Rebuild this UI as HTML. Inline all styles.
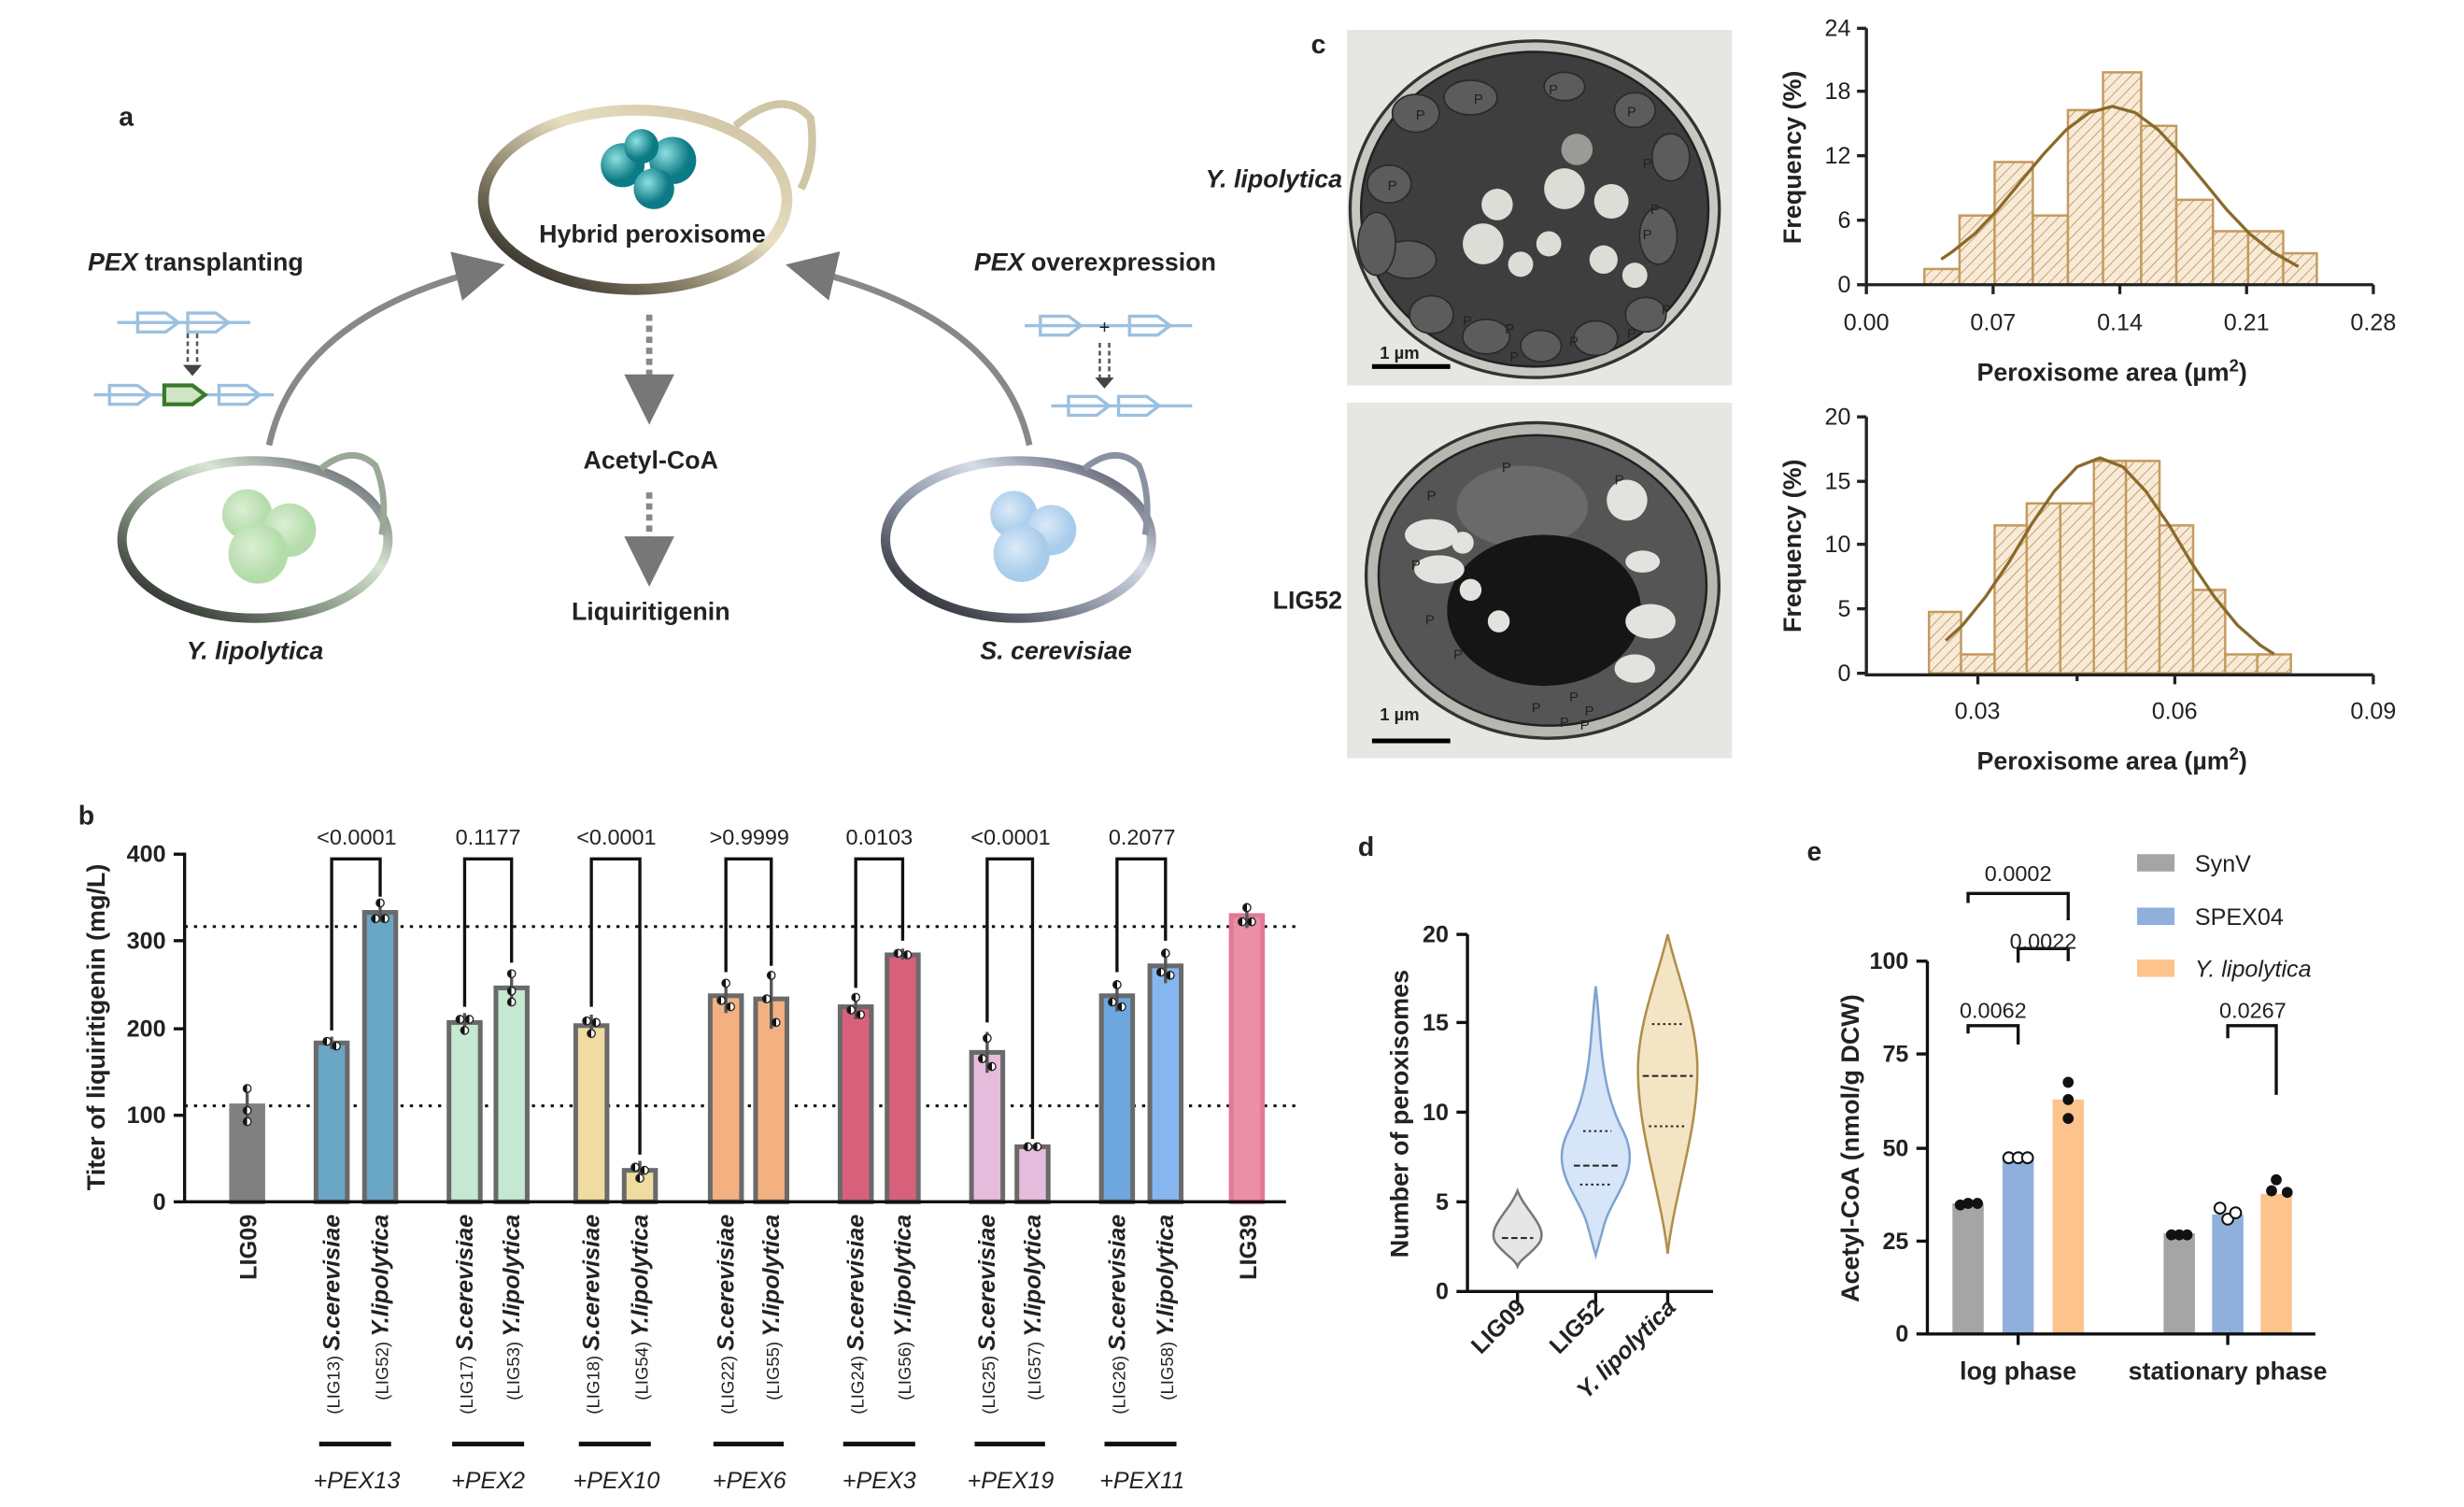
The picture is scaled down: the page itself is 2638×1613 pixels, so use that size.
<!DOCTYPE html>
<html><head><meta charset="utf-8"><style>
html,body{margin:0;padding:0;background:#fff}
svg{display:block}
text{font-family:"Liberation Sans",sans-serif;fill:#222}
.b{font-weight:bold}
.bi{font-weight:bold;font-style:italic}
</style></head><body>
<svg width="2638" height="1613" viewBox="0 0 1575 958" preserveAspectRatio="none" xmlns="http://www.w3.org/2000/svg">
<defs>
<pattern id="h" patternUnits="userSpaceOnUse" width="5" height="5" patternTransform="rotate(45)">
<rect width="5" height="5" fill="#f7ead8"/><line x1="0" y1="0" x2="0" y2="5" stroke="#c49a5e" stroke-width="1.1"/></pattern>
<radialGradient id="gt" cx="35%" cy="35%"><stop offset="0" stop-color="#8ee0e0"/><stop offset="1" stop-color="#0d7b86"/></radialGradient>
<radialGradient id="gg" cx="40%" cy="40%"><stop offset="0" stop-color="#dcefd4"/><stop offset="1" stop-color="#b4dcaa"/></radialGradient>
<radialGradient id="gb" cx="40%" cy="40%"><stop offset="0" stop-color="#dbeaf8"/><stop offset="1" stop-color="#a8cceb"/></radialGradient>
<linearGradient id="rh" x1="0" y1="1" x2="1" y2="0"><stop offset="0" stop-color="#111"/><stop offset="0.35" stop-color="#8a826a"/><stop offset="0.6" stop-color="#e8dfc2"/><stop offset="1" stop-color="#c8bd9a"/></linearGradient>
<linearGradient id="rg" x1="0" y1="1" x2="1" y2="0"><stop offset="0" stop-color="#111"/><stop offset="0.4" stop-color="#8a9a88"/><stop offset="0.65" stop-color="#d8e6d2"/><stop offset="1" stop-color="#445"/></linearGradient>
<linearGradient id="rb" x1="0" y1="1" x2="1" y2="0"><stop offset="0" stop-color="#111"/><stop offset="0.4" stop-color="#8890a0"/><stop offset="0.65" stop-color="#d6dce8"/><stop offset="1" stop-color="#334"/></linearGradient>
<marker id="ar" markerWidth="8" markerHeight="8" refX="6" refY="4" orient="auto"><path d="M0,0 L8,4 L0,8z" fill="#777"/></marker>
<linearGradient id="hd" x1="0" y1="0" x2="1" y2="0"><stop offset="0.5" stop-color="#111"/><stop offset="0.5" stop-color="#fff"/></linearGradient>
</defs>

<!-- Panel a -->
<text x="76" y="80" class="b" font-size="17" fill="#555">a</text>
<ellipse cx="406" cy="127" rx="97" ry="57" fill="#fff" stroke="url(#rh)" stroke-width="7"/>
<path d="M470,80 Q500,55 518,75 Q522,100 512,120" fill="none" stroke="#cfc6a6" stroke-width="5"/>
<circle cx="398" cy="105" r="14" fill="url(#gt)"/><circle cx="430" cy="102" r="15" fill="url(#gt)"/><circle cx="418" cy="120" r="13" fill="url(#gt)"/><circle cx="410" cy="93" r="11" fill="url(#gt)"/>
<text x="417" y="154" class="b" font-size="16" text-anchor="middle" fill="#444">Hybrid peroxisome</text>
<ellipse cx="163" cy="343" rx="85" ry="50" fill="#fff" stroke="url(#rg)" stroke-width="6"/>
<path d="M205,298 Q225,282 240,296 Q248,315 244,340" fill="none" stroke="#9aa896" stroke-width="4"/>
<circle cx="158" cy="327" r="16" fill="url(#gg)"/><circle cx="185" cy="337" r="17" fill="url(#gg)"/><circle cx="165" cy="352" r="19" fill="url(#gg)"/>
<text x="163" y="419" class="bi" font-size="16" text-anchor="middle" fill="#444">Y. lipolytica</text>
<ellipse cx="651" cy="343" rx="85" ry="50" fill="#fff" stroke="url(#rb)" stroke-width="6"/>
<path d="M693,298 Q713,282 728,296 Q736,315 732,340" fill="none" stroke="#8a92a2" stroke-width="4"/>
<circle cx="648" cy="327" r="15" fill="url(#gb)"/><circle cx="672" cy="337" r="16" fill="url(#gb)"/><circle cx="653" cy="352" r="18" fill="url(#gb)"/>
<text x="675" y="419" class="bi" font-size="16" text-anchor="middle" fill="#444">S. cerevisiae</text>
<path d="M172,283 Q190,200 315,170" fill="none" stroke="#888" stroke-width="4" marker-end="url(#ar)"/>
<path d="M658,283 Q640,200 510,170" fill="none" stroke="#888" stroke-width="4" marker-end="url(#ar)"/>
<line x1="415" y1="200" x2="415" y2="262" stroke="#888" stroke-width="4" stroke-dasharray="4,3" marker-end="url(#ar)"/>
<line x1="415" y1="313" x2="415" y2="365" stroke="#888" stroke-width="4" stroke-dasharray="4,3" marker-end="url(#ar)"/>
<text x="416" y="298" class="b" font-size="16" text-anchor="middle" fill="#b30000">Acetyl-CoA</text>
<text x="416" y="394" class="b" font-size="16" text-anchor="middle" fill="#444">Liquiritigenin</text>
<text x="125" y="172" class="b" font-size="16" text-anchor="middle" fill="#444"><tspan font-style="italic">PEX</tspan> transplanting</text>
<text x="700" y="172" class="b" font-size="16" text-anchor="middle" fill="#444"><tspan font-style="italic">PEX</tspan> overexpression</text>
<g stroke="#9cc0e0" stroke-width="2" fill="none">
<line x1="75" y1="205" x2="160" y2="205"/><path d="M88,199 h18 l8,6 l-8,6 h-18z M120,199 h18 l8,6 l-8,6 h-18z"/>
<line x1="60" y1="251" x2="175" y2="251"/><path d="M70,245 h18 l8,6 l-8,6 h-18z M140,245 h18 l8,6 l-8,6 h-18z"/>
<line x1="655" y1="207" x2="762" y2="207"/><path d="M665,201 h18 l8,6 l-8,6 h-18z M722,201 h18 l8,6 l-8,6 h-18z"/>
<line x1="672" y1="258" x2="762" y2="258"/><path d="M683,252 h18 l8,6 l-8,6 h-18z M715,252 h18 l8,6 l-8,6 h-18z"/>
</g>
<path d="M105,245 h18 l8,6 l-8,6 h-18z" fill="#cfe6c4" stroke="#3a7a2a" stroke-width="2.5"/>
<g stroke="#555" stroke-width="1.5" stroke-dasharray="3,2"><line x1="120" y1="212" x2="120" y2="235"/><line x1="126" y1="212" x2="126" y2="235"/><line x1="703" y1="218" x2="703" y2="243"/><line x1="709" y1="218" x2="709" y2="243"/></g>
<path d="M117,232 l6,7 l6,-7z M700,240 l6,7 l6,-7z" fill="#444"/>
<text x="706" y="212" font-size="12" text-anchor="middle">+</text>

<!-- Panel c -->
<text x="838" y="34" class="b" font-size="17" fill="#555">c</text>
<rect x="861" y="19" width="246" height="226" fill="#e6e6e2"/>
<ellipse cx="981" cy="133" rx="118" ry="107" fill="#c8c8c2" stroke="#333" stroke-width="2"/>
<ellipse cx="981" cy="133" rx="111" ry="100" fill="#3e3e3e" stroke="#222" stroke-width="1.5"/>
<g fill="#5c5c5c" stroke="#2a2a2a" stroke-width="1">
<ellipse cx="905" cy="72" rx="15" ry="12"/><ellipse cx="940" cy="62" rx="17" ry="11"/><ellipse cx="888" cy="117" rx="14" ry="12"/><ellipse cx="900" cy="165" rx="18" ry="12"/><ellipse cx="880" cy="155" rx="12" ry="20"/><ellipse cx="915" cy="200" rx="14" ry="12"/><ellipse cx="950" cy="214" rx="15" ry="11"/><ellipse cx="985" cy="220" rx="13" ry="10"/><ellipse cx="1020" cy="215" rx="14" ry="11"/><ellipse cx="1052" cy="200" rx="13" ry="11"/><ellipse cx="1060" cy="150" rx="12" ry="18"/><ellipse cx="1068" cy="100" rx="12" ry="15"/><ellipse cx="1045" cy="70" rx="13" ry="11"/><ellipse cx="1000" cy="55" rx="13" ry="9"/>
</g>
<g fill="#ddddd8"><circle cx="948" cy="155" r="13"/><circle cx="957" cy="130" r="10"/><circle cx="1000" cy="120" r="13"/><circle cx="1030" cy="128" r="11"/><circle cx="990" cy="155" r="8"/><circle cx="1025" cy="165" r="9"/><circle cx="1045" cy="175" r="8"/><circle cx="972" cy="168" r="8"/><circle cx="1008" cy="95" r="10" fill="#9a9a96"/></g>
<g font-size="9" fill="#f0e6b0"><text x="905" y="76">P</text><text x="942" y="66">P</text><text x="990" y="60">P</text><text x="1040" y="74">P</text><text x="1050" y="107">P</text><text x="887" y="121">P</text><text x="1055" y="136">P</text><text x="1062" y="200">P</text><text x="935" y="207">P</text><text x="962" y="212">P</text><text x="1003" y="220">P</text><text x="965" y="230">P</text><text x="1040" y="215">P</text><text x="1050" y="152">P</text></g>
<line x1="877" y1="233" x2="927" y2="233" stroke="#000" stroke-width="3"/><text x="882" y="228" font-size="11" class="b">1 µm</text>

<rect x="861" y="256" width="246" height="226" fill="#e6e6e2"/>
<ellipse cx="986" cy="369" rx="113" ry="100" fill="#b8b8b0" stroke="#333" stroke-width="2" transform="rotate(8 986 369)"/>
<ellipse cx="986" cy="369" rx="105" ry="92" fill="#555" stroke="#222" stroke-width="1.5" transform="rotate(8 986 369)"/>
<ellipse cx="973" cy="322" rx="42" ry="26" fill="#6a6a6a"/>
<ellipse cx="987" cy="388" rx="62" ry="48" fill="#151515"/>
<g fill="#e2e2de"><circle cx="1040" cy="318" r="13"/><ellipse cx="915" cy="340" rx="17" ry="10"/><ellipse cx="920" cy="362" rx="16" ry="9"/><circle cx="935" cy="345" r="7"/><circle cx="940" cy="375" r="7"/><circle cx="958" cy="395" r="7"/><ellipse cx="1055" cy="395" rx="16" ry="11"/><ellipse cx="1045" cy="425" rx="13" ry="9"/><ellipse cx="1050" cy="357" rx="11" ry="7"/></g>
<g font-size="9" fill="#f0e6b0"><text x="912" y="318">P</text><text x="960" y="300">P</text><text x="1032" y="308">P</text><text x="902" y="362">P</text><text x="911" y="397">P</text><text x="929" y="419">P</text><text x="979" y="453">P</text><text x="1003" y="446">P</text><text x="1013" y="455">P</text><text x="997" y="462">P</text><text x="1010" y="464">P</text></g>
<line x1="877" y1="471" x2="927" y2="471" stroke="#000" stroke-width="3"/><text x="882" y="458" font-size="11" class="b">1 µm</text>
<text x="858" y="119" class="bi" font-size="16" text-anchor="end">Y. lipolytica</text>
<text x="858" y="387" class="b" font-size="16" text-anchor="end">LIG52</text>

<!-- hist top (axis 1193..1517) -->
<g transform="translate(1193,0) scale(0.976,1) translate(-1193,0)">
<g stroke="#c49a5e" stroke-width="1.5" fill="url(#h)">
<rect x="1231" y="171" width="23" height="10"/><rect x="1254" y="137" width="23" height="44"/><rect x="1277" y="103" width="25" height="78"/><rect x="1302" y="137" width="23" height="44"/><rect x="1325" y="70" width="23" height="111"/><rect x="1348" y="46" width="25" height="135"/><rect x="1373" y="80" width="23" height="101"/><rect x="1396" y="127" width="24" height="54"/><rect x="1420" y="147" width="23" height="34"/><rect x="1443" y="147" width="23" height="34"/><rect x="1466" y="161" width="22" height="20"/>
</g>
<polyline points="1242,164.8 1249,160.2 1264,148.6 1279,133.3 1294,115.5 1309,98 1324,82.4 1339,71.6 1354,67.6 1369,71.6 1384,82.4 1399,98 1414,115.5 1429,133.3 1444,148.6 1459,160.2 1476,169.5" fill="none" stroke="#8a6a2a" stroke-width="2" stroke-linejoin="round"/>
<g stroke="#222" stroke-width="2"><line x1="1192" y1="181" x2="1525" y2="181"/>
<line x1="1276" y1="181" x2="1276" y2="187"/><line x1="1359" y1="181" x2="1359" y2="187"/><line x1="1442" y1="181" x2="1442" y2="187"/><line x1="1525" y1="181" x2="1525" y2="187"/></g>
</g>
<g stroke="#222" stroke-width="2"><line x1="1193" y1="18" x2="1193" y2="187"/>
<line x1="1187" y1="181" x2="1193" y2="181"/><line x1="1187" y1="140" x2="1193" y2="140"/><line x1="1187" y1="99" x2="1193" y2="99"/><line x1="1187" y1="58" x2="1193" y2="58"/><line x1="1187" y1="18" x2="1193" y2="18"/></g>
<g font-size="15" text-anchor="end"><text x="1183" y="186">0</text><text x="1183" y="145">6</text><text x="1183" y="104">12</text><text x="1183" y="63">18</text><text x="1183" y="23">24</text></g>
<g font-size="15" text-anchor="middle"><text x="1193" y="210">0.00</text><text x="1274" y="210">0.07</text><text x="1355" y="210">0.14</text><text x="1436" y="210">0.21</text><text x="1517" y="210">0.28</text></g>
<text x="1350" y="242" class="b" font-size="16" text-anchor="middle">Peroxisome area (µm<tspan dy="-6" font-size="11">2</tspan><tspan dy="6">)</tspan></text>
<text transform="translate(1151,100) rotate(-90)" class="b" font-size="16" text-anchor="middle">Frequency (%)</text>

<!-- hist bottom -->
<g transform="translate(1193,0) scale(0.976,1) translate(-1193,0)">
<g stroke="#c49a5e" stroke-width="1.5" fill="url(#h)">
<rect x="1234" y="389" width="21" height="39"/><rect x="1255" y="416" width="22" height="12"/><rect x="1277" y="334" width="21" height="94"/><rect x="1298" y="320" width="22" height="108"/><rect x="1320" y="320" width="22" height="108"/><rect x="1342" y="293" width="21" height="135"/><rect x="1363" y="293" width="22" height="135"/><rect x="1385" y="334" width="22" height="94"/><rect x="1407" y="375" width="21" height="53"/><rect x="1428" y="416" width="21" height="12"/><rect x="1449" y="416" width="22" height="12"/>
</g>
<polyline points="1245,407.2 1256,397.4 1271,379.5 1286,357.9 1301,333.5 1316,312.3 1331,296.8 1346,291.1 1361,296.8 1376,312.3 1391,333.5 1406,357.9 1421,379.5 1436,397.4 1451,410.2 1460,415.8" fill="none" stroke="#8a6a2a" stroke-width="2" stroke-linejoin="round"/>
<g stroke="#222" stroke-width="2"><line x1="1192" y1="429" x2="1525" y2="429"/>
<line x1="1266" y1="429" x2="1266" y2="435"/><line x1="1331" y1="429" x2="1331" y2="433"/><line x1="1395" y1="429" x2="1395" y2="435"/><line x1="1525" y1="429" x2="1525" y2="435"/></g>
</g>
<g stroke="#222" stroke-width="2"><line x1="1193" y1="265" x2="1193" y2="429"/>
<line x1="1187" y1="428" x2="1193" y2="428"/><line x1="1187" y1="387" x2="1193" y2="387"/><line x1="1187" y1="346" x2="1193" y2="346"/><line x1="1187" y1="306" x2="1193" y2="306"/><line x1="1187" y1="265" x2="1193" y2="265"/></g>
<g font-size="15" text-anchor="end"><text x="1183" y="433">0</text><text x="1183" y="392">5</text><text x="1183" y="351">10</text><text x="1183" y="311">15</text><text x="1183" y="270">20</text></g>
<g font-size="15" text-anchor="middle"><text x="1264" y="457">0.03</text><text x="1390" y="457">0.06</text><text x="1517" y="457">0.09</text></g>
<text x="1350" y="489" class="b" font-size="16" text-anchor="middle">Peroxisome area (µm<tspan dy="-6" font-size="11">2</tspan><tspan dy="6">)</tspan></text>
<text transform="translate(1151,347) rotate(-90)" class="b" font-size="16" text-anchor="middle">Frequency (%)</text>

<!-- Panel b -->
<text x="50" y="524" class="b" font-size="17" fill="#555">b</text>
<line x1="118" y1="703" x2="830" y2="703" stroke="#111" stroke-width="1.8" stroke-dasharray="2,4"/>
<line x1="118" y1="589" x2="830" y2="589" stroke="#111" stroke-width="1.8" stroke-dasharray="2,4"/>
<g stroke="#6a6a6a" stroke-width="3">
<rect x="148" y="703" width="20" height="61" fill="#808080" stroke="#808080"/>
<rect x="202" y="663" width="20" height="101" fill="#6aa6c6"/><rect x="233" y="580" width="20" height="184" fill="#6aa6c6"/>
<rect x="287" y="650" width="20" height="114" fill="#c4e8d2"/><rect x="317" y="628" width="20" height="136" fill="#c4e8d2"/>
<rect x="368" y="652" width="20" height="112" fill="#f0dca0"/><rect x="399" y="744" width="20" height="20" fill="#f0dca0"/>
<rect x="454" y="633" width="20" height="131" fill="#f3b080"/><rect x="483" y="635" width="20" height="129" fill="#f3b080"/>
<rect x="537" y="640" width="20" height="124" fill="#d9607a"/><rect x="567" y="607" width="20" height="157" fill="#d9607a"/>
<rect x="621" y="669" width="20" height="95" fill="#e6bcdc"/><rect x="650" y="729" width="20" height="35" fill="#e6bcdc"/>
<rect x="704" y="633" width="20" height="131" fill="#6ea6e0"/><rect x="735" y="614" width="20" height="150" fill="#86b6f0"/>
<rect x="787" y="582" width="20" height="182" fill="#ea8fa6" stroke="#e07a96"/>
</g>
<g stroke="#555" stroke-width="2">
<line x1="158" y1="690" x2="158" y2="714"/><line x1="212" y1="659" x2="212" y2="667"/><line x1="243" y1="573" x2="243" y2="586"/><line x1="297" y1="644" x2="297" y2="656"/><line x1="327" y1="617" x2="327" y2="639"/><line x1="378" y1="645" x2="378" y2="659"/><line x1="409" y1="738" x2="409" y2="750"/><line x1="464" y1="623" x2="464" y2="644"/><line x1="493" y1="618" x2="493" y2="654"/><line x1="547" y1="632" x2="547" y2="648"/><line x1="577" y1="603" x2="577" y2="610"/><line x1="631" y1="656" x2="631" y2="682"/><line x1="660" y1="728" x2="660" y2="730"/><line x1="714" y1="623" x2="714" y2="643"/><line x1="745" y1="603" x2="745" y2="625"/><line x1="797" y1="574" x2="797" y2="590"/>
</g>
<g fill="url(#hd)" stroke="#222" stroke-width="0.8">
<circle cx="158" cy="692" r="2.5"/><circle cx="158" cy="706" r="2.5"/><circle cx="158" cy="713" r="2.5"/>
<circle cx="209" cy="662" r="2.5"/><circle cx="215" cy="665" r="2.5"/><circle cx="240" cy="584" r="2.5"/><circle cx="246" cy="584" r="2.5"/><circle cx="243" cy="574" r="2.5"/>
<circle cx="294" cy="648" r="2.5"/><circle cx="300" cy="648" r="2.5"/><circle cx="297" cy="655" r="2.5"/><circle cx="327" cy="619" r="2.5"/><circle cx="327" cy="630" r="2.5"/><circle cx="327" cy="637" r="2.5"/>
<circle cx="375" cy="649" r="2.5"/><circle cx="381" cy="650" r="2.5"/><circle cx="378" cy="657" r="2.5"/><circle cx="406" cy="742" r="2.5"/><circle cx="412" cy="744" r="2.5"/><circle cx="409" cy="749" r="2.5"/>
<circle cx="464" cy="625" r="2.5"/><circle cx="461" cy="636" r="2.5"/><circle cx="467" cy="640" r="2.5"/><circle cx="493" cy="620" r="2.5"/><circle cx="490" cy="635" r="2.5"/><circle cx="496" cy="650" r="2.5"/>
<circle cx="547" cy="634" r="2.5"/><circle cx="544" cy="642" r="2.5"/><circle cx="550" cy="645" r="2.5"/><circle cx="574" cy="606" r="2.5"/><circle cx="580" cy="607" r="2.5"/>
<circle cx="631" cy="660" r="2.5"/><circle cx="628" cy="673" r="2.5"/><circle cx="634" cy="678" r="2.5"/><circle cx="657" cy="729" r="2.5"/><circle cx="663" cy="729" r="2.5"/>
<circle cx="714" cy="626" r="2.5"/><circle cx="711" cy="637" r="2.5"/><circle cx="717" cy="640" r="2.5"/><circle cx="745" cy="606" r="2.5"/><circle cx="742" cy="618" r="2.5"/><circle cx="748" cy="620" r="2.5"/>
<circle cx="797" cy="577" r="2.5"/><circle cx="794" cy="586" r="2.5"/><circle cx="800" cy="586" r="2.5"/>
</g>
<g stroke="#111" stroke-width="2" fill="none">
<path d="M212,655 V546 H243 V570"/><path d="M297,640 V546 H327 V612"/><path d="M378,640 V546 H409 V734"/><path d="M464,618 V546 H493 V614"/><path d="M547,628 V546 H577 V598"/><path d="M631,650 V546 H660 V724"/><path d="M714,618 V546 H745 V598"/>
<line x1="118" y1="542" x2="118" y2="765"/><line x1="117" y1="764" x2="822" y2="764"/>
<line x1="111" y1="764" x2="118" y2="764"/><line x1="111" y1="709" x2="118" y2="709"/><line x1="111" y1="654" x2="118" y2="654"/><line x1="111" y1="598" x2="118" y2="598"/><line x1="111" y1="543" x2="118" y2="543"/>
</g>
<g font-size="14" text-anchor="middle"><text x="228" y="537">&lt;0.0001</text><text x="312" y="537">0.1177</text><text x="394" y="537">&lt;0.0001</text><text x="479" y="537">&gt;0.9999</text><text x="562" y="537">0.0103</text><text x="646" y="537">&lt;0.0001</text><text x="730" y="537">0.2077</text></g>
<g font-size="15" class="b" text-anchor="end"><text x="106" y="769">0</text><text x="106" y="714">100</text><text x="106" y="659">200</text><text x="106" y="603">300</text><text x="106" y="548">400</text></g>
<text transform="translate(67,653) rotate(-90)" class="b" font-size="16" text-anchor="middle">Titer of liquiritigenin (mg/L)</text>
<g font-size="15" text-anchor="end">
<text transform="translate(164,772) rotate(-90)" class="b">LIG09</text>
<text transform="translate(217,772) rotate(-90)"><tspan font-size="11">(LIG13) </tspan><tspan class="bi">S.cerevisiae</tspan></text>
<text transform="translate(248,772) rotate(-90)"><tspan font-size="11">(LIG52) </tspan><tspan class="bi">Y.lipolytica</tspan></text>
<text transform="translate(302,772) rotate(-90)"><tspan font-size="11">(LIG17) </tspan><tspan class="bi">S.cerevisiae</tspan></text>
<text transform="translate(332,772) rotate(-90)"><tspan font-size="11">(LIG53) </tspan><tspan class="bi">Y.lipolytica</tspan></text>
<text transform="translate(383,772) rotate(-90)"><tspan font-size="11">(LIG18) </tspan><tspan class="bi">S.cerevisiae</tspan></text>
<text transform="translate(414,772) rotate(-90)"><tspan font-size="11">(LIG54) </tspan><tspan class="bi">Y.lipolytica</tspan></text>
<text transform="translate(469,772) rotate(-90)"><tspan font-size="11">(LIG22) </tspan><tspan class="bi">S.cerevisiae</tspan></text>
<text transform="translate(498,772) rotate(-90)"><tspan font-size="11">(LIG55) </tspan><tspan class="bi">Y.lipolytica</tspan></text>
<text transform="translate(552,772) rotate(-90)"><tspan font-size="11">(LIG24) </tspan><tspan class="bi">S.cerevisiae</tspan></text>
<text transform="translate(582,772) rotate(-90)"><tspan font-size="11">(LIG56) </tspan><tspan class="bi">Y.lipolytica</tspan></text>
<text transform="translate(636,772) rotate(-90)"><tspan font-size="11">(LIG25) </tspan><tspan class="bi">S.cerevisiae</tspan></text>
<text transform="translate(665,772) rotate(-90)"><tspan font-size="11">(LIG57) </tspan><tspan class="bi">Y.lipolytica</tspan></text>
<text transform="translate(719,772) rotate(-90)"><tspan font-size="11">(LIG26) </tspan><tspan class="bi">S.cerevisiae</tspan></text>
<text transform="translate(750,772) rotate(-90)"><tspan font-size="11">(LIG58) </tspan><tspan class="bi">Y.lipolytica</tspan></text>
<text transform="translate(803,772) rotate(-90)" class="b">LIG39</text>
</g>
<g stroke="#111" stroke-width="3"><line x1="204" y1="918" x2="250" y2="918"/><line x1="289" y1="918" x2="335" y2="918"/><line x1="370" y1="918" x2="416" y2="918"/><line x1="456" y1="918" x2="501" y2="918"/><line x1="539" y1="918" x2="585" y2="918"/><line x1="623" y1="918" x2="668" y2="918"/><line x1="706" y1="918" x2="752" y2="918"/></g>
<g font-size="15" font-style="italic" text-anchor="middle"><text x="228" y="946">+PEX13</text><text x="312" y="946">+PEX2</text><text x="394" y="946">+PEX10</text><text x="479" y="946">+PEX6</text><text x="562" y="946">+PEX3</text><text x="646" y="946">+PEX19</text><text x="730" y="946">+PEX11</text></g>

<!-- Panel d -->
<text x="868" y="544" class="b" font-size="17" fill="#555">d</text>
<path d="M970,757 C975,770 990,780 984,790 C978,798 972,800 970,805 C968,800 962,798 956,790 C950,780 965,770 970,757z" fill="#e6e6e6" stroke="#777" stroke-width="1.5"/>
<path d="M1020,627 C1024,660 1022,690 1038,720 C1050,745 1030,760 1025,780 L1020,798 L1015,780 C1010,760 990,745 1002,720 C1018,690 1016,660 1020,627z" fill="#d6e6f8" stroke="#7fa3d0" stroke-width="1.5"/>
<path d="M1066,594 C1072,620 1085,650 1085,680 C1085,720 1070,760 1066,797 C1062,760 1047,720 1047,680 C1047,650 1060,620 1066,594z" fill="#f3e4c4" stroke="#b08d4a" stroke-width="1.5"/>
<g stroke="#222" stroke-width="1.2"><line x1="960" y1="787" x2="980" y2="787" stroke-dasharray="4,2"/><line x1="1006" y1="741" x2="1034" y2="741" stroke-dasharray="4,2"/><line x1="1050" y1="684" x2="1082" y2="684" stroke-dasharray="4,2"/><line x1="1012" y1="719" x2="1030" y2="719" stroke-dasharray="1.5,2"/><line x1="1010" y1="753" x2="1030" y2="753" stroke-dasharray="1.5,2"/><line x1="1056" y1="651" x2="1076" y2="651" stroke-dasharray="1.5,2"/><line x1="1054" y1="716" x2="1078" y2="716" stroke-dasharray="1.5,2"/></g>
<g stroke="#111" stroke-width="2"><line x1="938" y1="594" x2="938" y2="822"/><line x1="937" y1="821" x2="1095" y2="821"/>
<line x1="931" y1="821" x2="938" y2="821"/><line x1="931" y1="764" x2="938" y2="764"/><line x1="931" y1="707" x2="938" y2="707"/><line x1="931" y1="650" x2="938" y2="650"/><line x1="931" y1="594" x2="938" y2="594"/>
<line x1="970" y1="821" x2="970" y2="828"/><line x1="1020" y1="821" x2="1020" y2="828"/><line x1="1066" y1="821" x2="1066" y2="828"/></g>
<g font-size="15" class="b" text-anchor="end"><text x="926" y="826">0</text><text x="926" y="769">5</text><text x="926" y="712">10</text><text x="926" y="655">15</text><text x="926" y="599">20</text></g>
<text transform="translate(900,708) rotate(-90)" class="b" font-size="16" text-anchor="middle">Number of peroxisomes</text>
<g font-size="15" class="b" text-anchor="end"><text transform="translate(976,832) rotate(-45)">LIG09</text><text transform="translate(1026,832) rotate(-45)">LIG52</text><text transform="translate(1072,832) rotate(-45)" font-style="italic">Y. lipolytica</text></g>

<!-- Panel e -->
<text x="1155" y="547" class="b" font-size="17" fill="#555">e</text>
<g>
<rect x="1248" y="765" width="20" height="83" fill="#a5a5a5"/><rect x="1280" y="736" width="20" height="112" fill="#8fb0dc"/><rect x="1312" y="699" width="20" height="149" fill="#fcc48c"/>
<rect x="1383" y="784" width="20" height="64" fill="#a5a5a5"/><rect x="1414" y="772" width="20" height="76" fill="#8fb0dc"/><rect x="1445" y="759" width="20" height="89" fill="#fcc48c"/>
</g>
<g fill="#111"><circle cx="1253" cy="766" r="3.5"/><circle cx="1258" cy="765" r="3.5"/><circle cx="1264" cy="765" r="3.5"/><circle cx="1388" cy="785" r="3.5"/><circle cx="1393" cy="785" r="3.5"/><circle cx="1398" cy="785" r="3.5"/><circle cx="1322" cy="688" r="3.5"/><circle cx="1322" cy="699" r="3.5"/><circle cx="1322" cy="711" r="3.5"/><circle cx="1452" cy="757" r="3.5"/><circle cx="1462" cy="758" r="3.5"/><circle cx="1455" cy="750" r="3.5"/></g>
<g fill="#fff" stroke="#111" stroke-width="1.2"><circle cx="1284" cy="736" r="3.5"/><circle cx="1290" cy="736" r="3.5"/><circle cx="1296" cy="736" r="3.5"/><circle cx="1419" cy="768" r="3.5"/><circle cx="1424" cy="775" r="3.5"/><circle cx="1429" cy="771" r="3.5"/></g>
<g stroke="#111" stroke-width="2" fill="none">
<path d="M1258,574 V568 H1322 V585"/><path d="M1290,612 V603 H1322 V611"/><path d="M1258,657 V652 H1290 V664"/><path d="M1424,660 V652 H1455 V696"/>
<line x1="1232" y1="611" x2="1232" y2="849"/><line x1="1231" y1="848" x2="1480" y2="848"/>
<line x1="1225" y1="848" x2="1232" y2="848"/><line x1="1225" y1="789" x2="1232" y2="789"/><line x1="1225" y1="730" x2="1232" y2="730"/><line x1="1225" y1="670" x2="1232" y2="670"/><line x1="1225" y1="611" x2="1232" y2="611"/>
<line x1="1290" y1="848" x2="1290" y2="855"/><line x1="1424" y1="848" x2="1424" y2="855"/></g>
<g font-size="14" text-anchor="middle"><text x="1290" y="560">0.0002</text><text x="1306" y="603">0.0022</text><text x="1274" y="647">0.0062</text><text x="1440" y="647">0.0267</text></g>
<g font-size="15" class="b" text-anchor="end"><text x="1220" y="853">0</text><text x="1220" y="794">25</text><text x="1220" y="735">50</text><text x="1220" y="675">75</text><text x="1220" y="616">100</text></g>
<text transform="translate(1188,730) rotate(-90)" class="b" font-size="16" text-anchor="middle">Acetyl-CoA (nmol/g DCW)</text>
<g font-size="16" class="b" text-anchor="middle"><text x="1290" y="877">log phase</text><text x="1424" y="877">stationary phase</text></g>
<rect x="1366" y="543" width="24" height="11" fill="#a5a5a5"/><text x="1403" y="554" font-size="15">SynV</text>
<rect x="1366" y="577" width="24" height="11" fill="#8fb0dc"/><text x="1403" y="588" font-size="15">SPEX04</text>
<rect x="1366" y="610" width="24" height="11" fill="#fcc48c"/><text x="1403" y="621" font-size="15" font-style="italic">Y. lipolytica</text>
</svg>
</body></html>
